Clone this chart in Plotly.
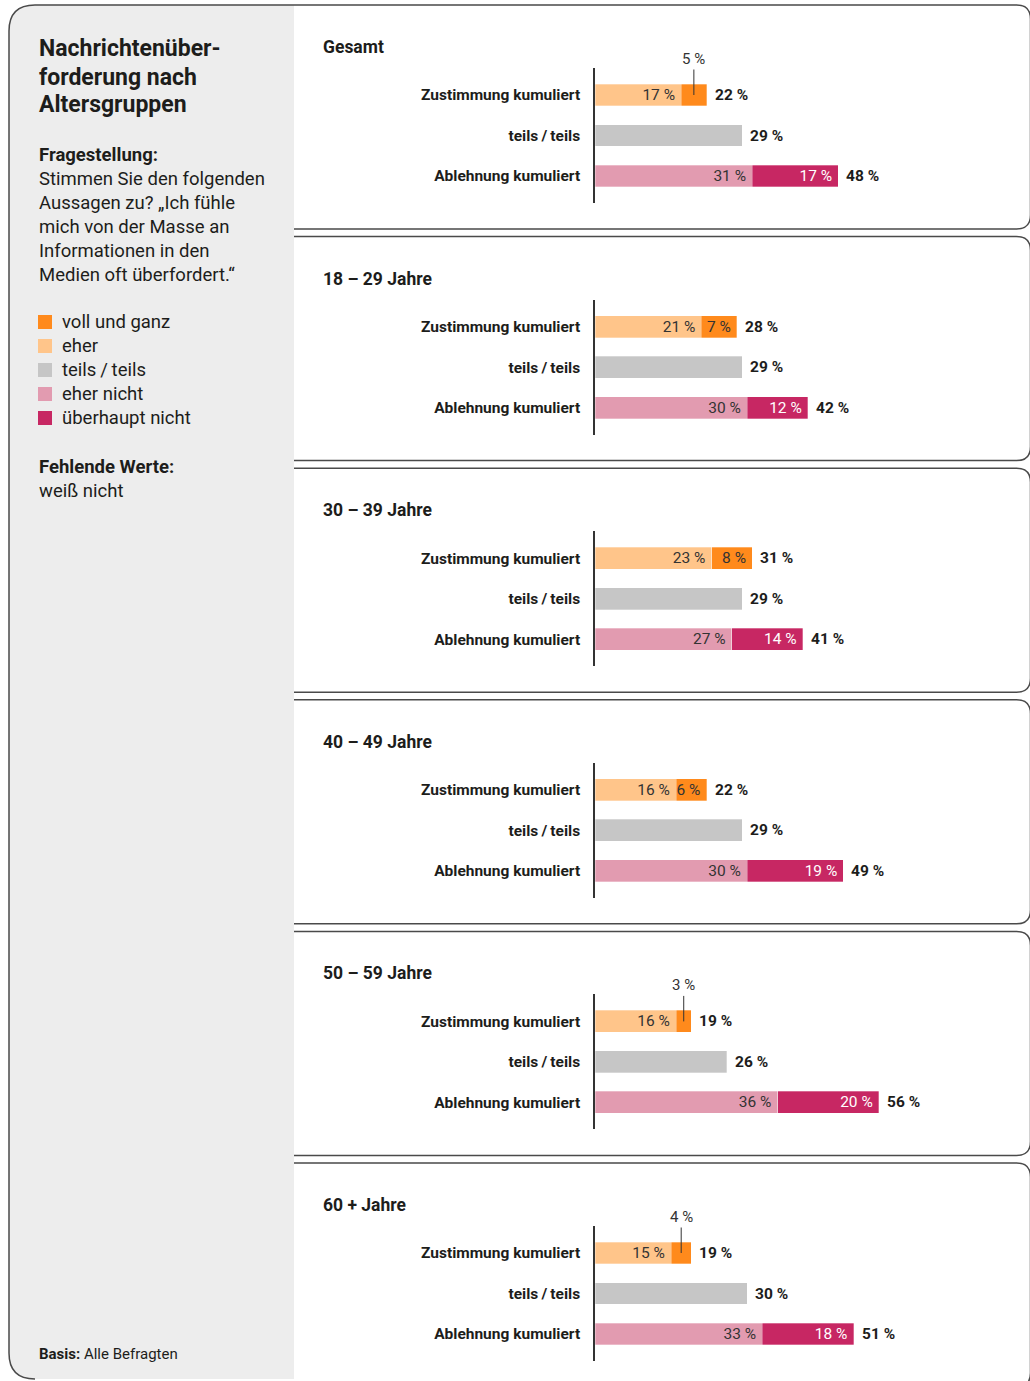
import plotly.graph_objects as go

W, H = 1030, 1381

groups = ["Gesamt", "18 – 29 Jahre", "30 – 39 Jahre", "40 – 49 Jahre", "50 – 59 Jahre", "60 + Jahre"]
rows = ["Zustimmung kumuliert", "teils\u2009/\u2009teils", "Ablehnung kumuliert"]

voll_und_ganz = [5, 7, 8, 6, 3, 4]
eher = [17, 21, 23, 16, 16, 15]
teils_teils = [29, 29, 29, 29, 26, 30]
eher_nicht = [31, 30, 27, 30, 36, 33]
ueberhaupt_nicht = [17, 12, 14, 19, 20, 18]
zustimmung_total = [22, 28, 31, 22, 19, 19]
ablehnung_total = [48, 42, 41, 49, 56, 51]

legend_labels = ["voll und ganz", "eher", "teils\u2009/\u2009teils", "eher nicht", "überhaupt nicht"]
colors = ["#FF8A1C", "#FFC58A", "#C6C6C6", "#E29BB0", "#C72763"]

title_lines = ["Nachrichtenüber-", "forderung nach", "Altersgruppen"]
question_lines = ["Stimmen Sie den folgenden", "Aussagen zu? \u201eIch fühle",
                  "mich von der Masse an", "Informationen in den", "Medien oft überfordert.\u201c"]

FONT = "Roboto, Arial, sans-serif"
DARK = "#1d1d1b"
LINE = "#4a4a4a"


def px(x):
    return x / W


def py(y):
    return 1 - y / H


def pt(x, y):
    return f"{px(x):.5f},{py(y):.5f}"


def pct(v):
    return f"{v} %"


fig = go.Figure()
layout = {}
annotations = []
shapes = []

# left info panel
r = 26
shapes.append(dict(
    type="path", xref="paper", yref="paper", layer="below",
    path=f"M{pt(294, 5)} L{pt(9 + r, 5)} Q{pt(9, 5)} {pt(9, 5 + r)} L{pt(9, 1379 - r)} "
         f"Q{pt(9, 1379)} {pt(9 + r, 1379)} L{pt(294, 1379)} Z",
    fillcolor="#EDEDED", line=dict(width=0)))
shapes.append(dict(
    type="path", xref="paper", yref="paper",
    path=f"M{pt(294, 5)} L{pt(9 + r, 5)} Q{pt(9, 5)} {pt(9, 5 + r)} L{pt(9, 1379 - r)} "
         f"Q{pt(9, 1379)} {pt(9 + r, 1379)}",
    line=dict(color=LINE, width=1.5)))

for k, line in enumerate(title_lines):
    annotations.append(dict(x=px(37), y=py(49 + 28 * k), xref="paper", yref="paper",
                            text=f"<b>{line}</b>", showarrow=False, xanchor="left", yanchor="middle",
                            font=dict(family=FONT, size=23, color=DARK)))
annotations.append(dict(x=px(37), y=py(155), xref="paper", yref="paper",
                        text="<b>Fragestellung:</b>", showarrow=False, xanchor="left", yanchor="middle",
                        font=dict(family=FONT, size=18.5, color=DARK)))
for k, line in enumerate(question_lines):
    annotations.append(dict(x=px(37), y=py(179 + 24 * k), xref="paper", yref="paper",
                            text=line, showarrow=False, xanchor="left", yanchor="middle",
                            font=dict(family=FONT, size=18.5, color=DARK)))

for k, (lab, col) in enumerate(zip(legend_labels, colors)):
    yc = 322 + 24 * k
    shapes.append(dict(type="rect", xref="paper", yref="paper",
                       x0=px(38), x1=px(52), y0=py(yc + 7), y1=py(yc - 7),
                       fillcolor=col, line=dict(width=0)))
    annotations.append(dict(x=px(60), y=py(yc), xref="paper", yref="paper",
                            text=lab, showarrow=False, xanchor="left", yanchor="middle",
                            font=dict(family=FONT, size=18.5, color=DARK)))

annotations.append(dict(x=px(37), y=py(467), xref="paper", yref="paper",
                        text="<b>Fehlende Werte:</b>", showarrow=False, xanchor="left", yanchor="middle",
                        font=dict(family=FONT, size=18.5, color=DARK)))
annotations.append(dict(x=px(37), y=py(491), xref="paper", yref="paper",
                        text="weiß nicht", showarrow=False, xanchor="left", yanchor="middle",
                        font=dict(family=FONT, size=18.5, color=DARK)))
annotations.append(dict(x=px(37), y=py(1354), xref="paper", yref="paper",
                        text="<b>Basis:</b> Alle Befragten", showarrow=False, xanchor="left",
                        yanchor="middle", font=dict(family=FONT, size=15, color=DARK)))

# group panels
pr = 14
xr = 1030.5
for i, grp in enumerate(groups):
    top = 5 + 231.6 * i
    bot = top + 224
    shapes.append(dict(
        type="path", xref="paper", yref="paper",
        path=f"M{pt(294, top)} L{pt(xr - pr, top)} Q{pt(xr, top)} {pt(xr, top + pr)} "
             f"L{pt(xr, bot - pr)} Q{pt(xr, bot)} {pt(xr - pr, bot)} L{pt(294, bot)}",
        line=dict(color=LINE, width=1.5)))
    annotations.append(dict(x=px(321), y=py(top + 42), xref="paper", yref="paper",
                            text=f"<b>{grp}</b>", showarrow=False, xanchor="left", yanchor="middle",
                            font=dict(family=FONT, size=17.5, color=DARK)))

    n = "" if i == 0 else str(i + 1)
    xa, ya = "x" + n, "y" + n

    segs = [
        (rows[0], eher[i], colors[1], "#333333", True),
        (rows[0], voll_und_ganz[i], colors[0], "#333333", voll_und_ganz[i] >= 6),
        (rows[1], teils_teils[i], colors[2], "#333333", False),
        (rows[2], eher_nicht[i], colors[3], "#333333", True),
        (rows[2], ueberhaupt_nicht[i], colors[4], "#FFFFFF", True),
    ]
    for cat, val, col, tcol, show_txt in segs:
        fig.add_trace(go.Bar(
            x=[val], y=[cat], orientation="h", xaxis=xa, yaxis=ya, width=0.54,
            marker=dict(color=col, line=dict(color="rgba(255,255,255,0.5)", width=0.6)),
            text=[pct(val) + "\u2009"] if show_txt else None,
            textposition="inside", insidetextanchor="end",
            textfont=dict(family=FONT, size=15.5, color=tcol),
            hoverinfo="skip", showlegend=False))

    if voll_und_ganz[i] < 6:
        annotations.append(dict(x=eher[i] + voll_und_ganz[i] / 2, y=rows[0], xref=xa, yref=ya,
                                text=pct(voll_und_ganz[i]), showarrow=True, arrowhead=0,
                                arrowwidth=1, arrowcolor="#333333", ax=0, ay=-36,
                                font=dict(family=FONT, size=15, color="#333333")))

    for cat, tot in zip(rows, [zustimmung_total[i], teils_teils[i], ablehnung_total[i]]):
        annotations.append(dict(x=tot, y=cat, xref=xa, yref=ya, text=f"<b>{pct(tot)}</b>",
                                showarrow=False, xanchor="left", yanchor="middle", xshift=6,
                                font=dict(family=FONT, size=15.5, color=DARK)))

    layout["xaxis" + n] = dict(domain=[px(595), px(1000.6)], range=[0, 80], anchor=ya,
                               visible=False, fixedrange=True)
    layout["yaxis" + n] = dict(domain=[py(top + 198), py(top + 63)], anchor=xa,
                               type="category", categoryorder="array", categoryarray=rows,
                               range=[2.667, -0.667], showline=True, linecolor="#333333",
                               linewidth=1.5, showgrid=False, zeroline=False, ticks="",
                               ticklabelstandoff=10,
                               tickfont=dict(family=FONT, size=15.5, color=DARK, weight=700),
                               fixedrange=True)

fig.update_layout(
    width=W, height=H,
    margin=dict(l=0, r=0, t=0, b=0),
    paper_bgcolor="white", plot_bgcolor="rgba(0,0,0,0)",
    barmode="stack",
    uniformtext=dict(minsize=15, mode="show"),
    shapes=shapes, annotations=annotations,
    font=dict(family=FONT),
    **layout,
)

fig.write_html("out.html", config={"displayModeBar": False},
               post_script="document.body.style.margin='0';document.body.style.overflow='hidden';")
